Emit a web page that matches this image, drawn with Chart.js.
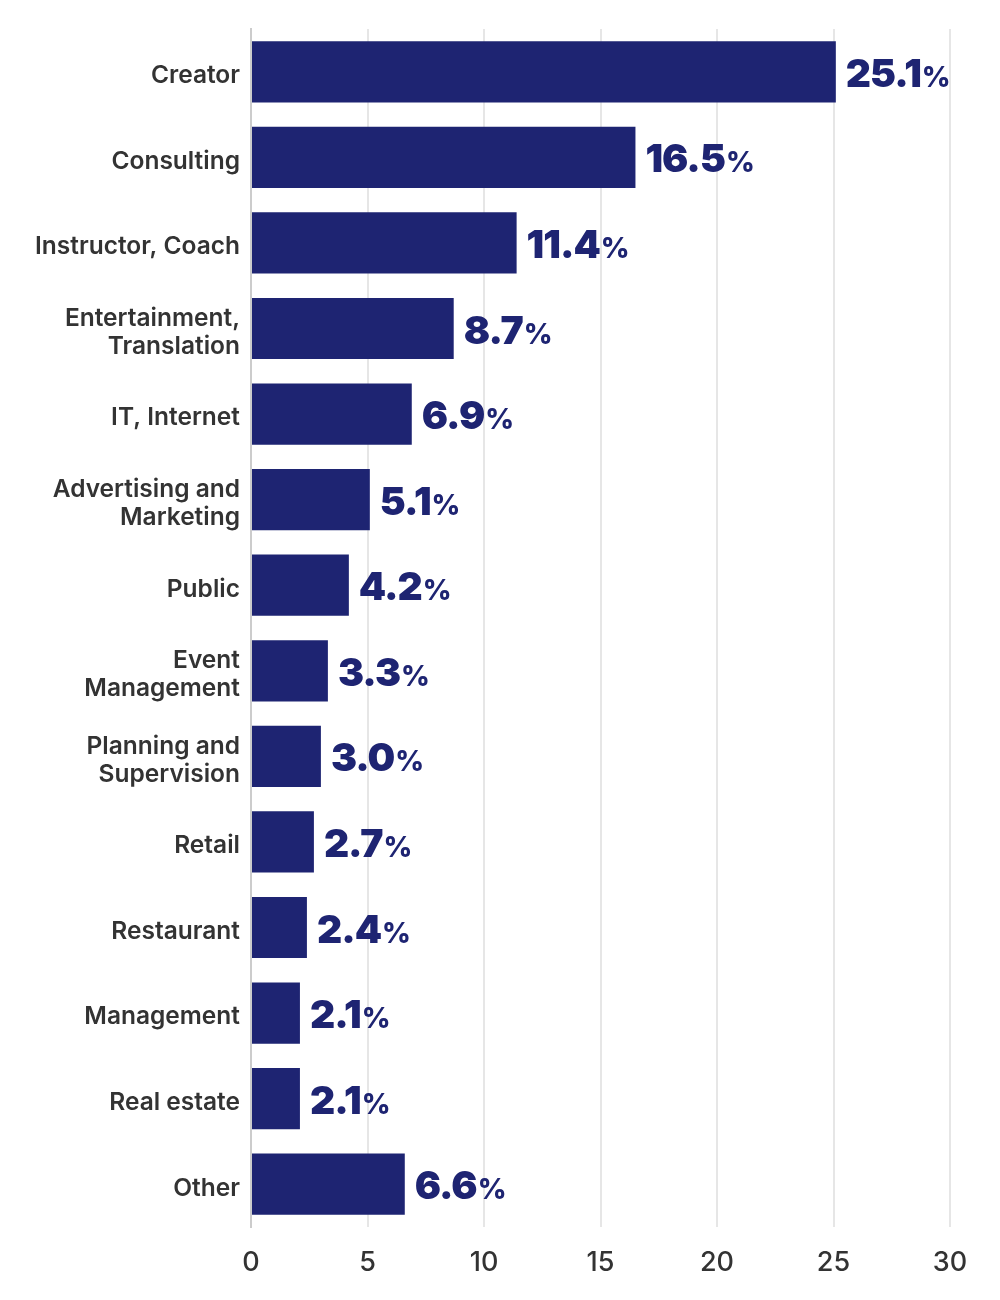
<!DOCTYPE html>
<html>
<head>
<meta charset="utf-8">
<script src="https://cdn.jsdelivr.net/npm/chart.js@4.4.1/dist/chart.umd.min.js"></script>
<style>
html,body{margin:0;padding:0;background:#fff;}
#wrap{width:1000px;height:1300px;position:relative;}
</style>
</head>
<body>
<div id="wrap"><canvas id="c"></canvas></div>
<script>
const categories = [
  ["Creator"],
  ["Consulting"],
  ["Instructor, Coach"],
  ["Entertainment,", "Translation"],
  ["IT, Internet"],
  ["Advertising and", "Marketing"],
  ["Public"],
  ["Event", "Management"],
  ["Planning and", "Supervision"],
  ["Retail"],
  ["Restaurant"],
  ["Management"],
  ["Real estate"],
  ["Other"]
];
const values = [25.1, 16.5, 11.4, 8.7, 6.9, 5.1, 4.2, 3.3, 3.0, 2.7, 2.4, 2.1, 2.1, 6.6];
const xTicks = [0, 5, 10, 15, 20, 25, 30];

const NAVY = '#1e2472';
const TEXT = '#333333';

// Draws category labels at the y scale's positions (slightly lowered like the reference)
const categoryLabels = {
  id: 'categoryLabels',
  afterDraw(chart) {
    const ctx = chart.ctx;
    const ys = chart.scales.y;
    const lh = 28;
    ctx.save();
    ctx.fillStyle = TEXT;
    ctx.font = '600 24.5px Inter';
    ctx.textAlign = 'right';
    ctx.textBaseline = 'middle';
    categories.forEach((lines, i) => {
      const cy = ys.getPixelForValue(i) + 4;
      const start = cy - (lines.length - 1) * lh / 2;
      lines.forEach((t, j) => ctx.fillText(t, ys.right - 11, start + j * lh));
    });
    ctx.restore();
  }
};

const valueLabels = {
  id: 'valueLabels',
  afterDatasetsDraw(chart) {
    const ctx = chart.ctx;
    const meta = chart.getDatasetMeta(0);
    ctx.save();
    ctx.fillStyle = NAVY;
    ctx.textBaseline = 'alphabetic';
    ctx.textAlign = 'left';
    meta.data.forEach((bar, i) => {
      const num = values[i].toFixed(1);
      const x = bar.x + 10;
      const y = bar.y + 15;
      ctx.font = '900 39px Inter';
      ctx.letterSpacing = '-1px';
      ctx.fillText(num, x, y);
      const w = ctx.measureText(num).width;
      ctx.font = '800 28px Inter';
      ctx.letterSpacing = '0px';
      ctx.fillText('%', x + w + 1, y);
    });
    ctx.restore();
  }
};

new Chart(document.getElementById('c'), {
  type: 'bar',
  data: {
    labels: categories,
    datasets: [{
      data: values,
      backgroundColor: NAVY,
      borderWidth: 0,
      categoryPercentage: 1,
      barPercentage: 0.715
    }]
  },
  options: {
    indexAxis: 'y',
    responsive: true,
    maintainAspectRatio: false,
    animation: false,
    layout: { padding: { top: 29, right: 50, bottom: 0, left: 0 } },
    plugins: { legend: { display: false }, tooltip: { enabled: false } },
    scales: {
      x: {
        min: 0, max: 30,
        afterBuildTicks(axis) { axis.ticks = xTicks.map(v => ({ value: v })); },
        afterFit(axis) { axis.height = 73; },
        grid: { color: '#e6e6e6', lineWidth: 2, drawTicks: false },
        border: { display: false },
        ticks: {
          color: TEXT, padding: 20,
          font: { family: 'Inter', size: 27, weight: '500' }
        }
      },
      y: {
        afterFit(axis) { axis.width = 251; },
        grid: { display: false, drawTicks: false },
        border: { display: true, color: '#cccccc', width: 2 },
        ticks: { display: false }
      }
    }
  },
  plugins: [valueLabels, categoryLabels]
});
</script>
</body>
</html>
